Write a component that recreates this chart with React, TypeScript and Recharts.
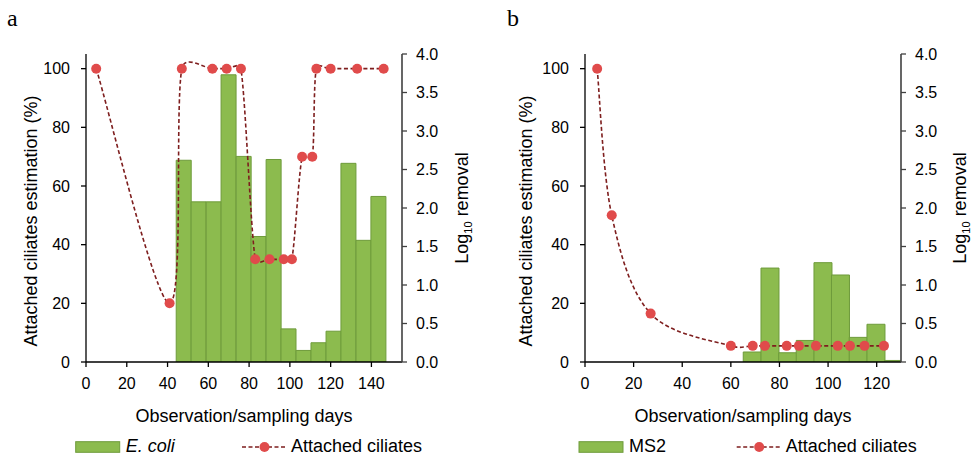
import React from 'react';
import { ComposedChart, Bar, Line, XAxis, YAxis, Legend } from 'recharts';

// ---------- Data: panel a ----------
const ecoliDays = [47.9, 55.2, 62.6, 69.9, 77.3, 84.6, 92.0, 99.3, 106.7, 114.0, 121.4, 128.7, 136.1, 143.4];
const ecoliLog = [2.62, 2.08, 2.08, 3.73, 2.67, 1.63, 2.63, 0.43, 0.15, 0.25, 0.4, 2.58, 1.58, 2.15];
const ciliatesDaysA = [5, 41, 47, 62, 69, 76, 83, 90, 97, 101, 106, 111, 113, 120, 133, 146];
const ciliatesA = [100, 20, 100, 100, 100, 100, 35, 35, 35, 35, 70, 70, 100, 100, 100, 100];
const xTicksA = [0, 20, 40, 60, 80, 100, 120, 140];

// ---------- Data: panel b ----------
const ms2Days = [68.7, 76.0, 83.3, 90.5, 97.8, 105.0, 112.3, 119.6, 126.8];
const ms2Log = [0.13, 1.22, 0.12, 0.28, 1.29, 1.13, 0.32, 0.49, 0.02];
const ciliatesDaysB = [5, 11, 27, 60, 69, 74, 83, 88, 95, 104, 109, 115, 123];
const ciliatesB = [100, 50, 16.5, 5.5, 5.5, 5.5, 5.5, 5.5, 5.5, 5.5, 5.5, 5.5, 5.5];
const xTicksB = [0, 20, 40, 60, 80, 100, 120];

// ---------- Shared axis ticks ----------
const leftTicks = [0, 20, 40, 60, 80, 100];
const rightTicks = [0, 0.5, 1, 1.5, 2, 2.5, 3, 3.5, 4];

const FONT = '"Liberation Sans", Arial, sans-serif';
const BAR_FILL = '#8CBB4E';
const BAR_STROKE = '#6E9B3B';
const LINE_COLOR = '#7E1E1E';
const DOT_COLOR = '#E04B4B';

// Excel-like smoothed line: Catmull-Rom Bezier (1/6 arms), arms clamped to half the segment length
function excelSmooth(context: any) {
  let pts: number[][] = [];
  const dist = (a: number[], b: number[]) => Math.hypot(b[0] - a[0], b[1] - a[1]);
  const arm = (from: number[], to: number[], segLen: number) => {
    let ax = (to[0] - from[0]) / 6;
    let ay = (to[1] - from[1]) / 6;
    const len = Math.hypot(ax, ay);
    const maxLen = segLen / 2;
    if (len > maxLen && len > 0) {
      ax *= maxLen / len;
      ay *= maxLen / len;
    }
    return [ax, ay];
  };
  return {
    areaStart() {},
    areaEnd() {},
    lineStart() {
      pts = [];
    },
    point(x: number, y: number) {
      pts.push([+x, +y]);
    },
    lineEnd() {
      const n = pts.length;
      if (!n) return;
      context.moveTo(pts[0][0], pts[0][1]);
      for (let i = 0; i < n - 1; i++) {
        const p0 = pts[Math.max(i - 1, 0)];
        const p1 = pts[i];
        const p2 = pts[i + 1];
        const p3 = pts[Math.min(i + 2, n - 1)];
        const d12 = dist(p1, p2);
        const a1 = arm(p0, p2, d12);
        const a2 = arm(p1, p3, d12);
        context.bezierCurveTo(p1[0] + a1[0], p1[1] + a1[1], p2[0] - a2[0], p2[1] - a2[1], p2[0], p2[1]);
      }
    },
  };
}

type PanelProps = {
  letter: string;
  left: number;
  width: number;
  barDays: number[];
  barVals: number[];
  lineDays: number[];
  lineVals: number[];
  xMax: number;
  xTicks: number[];
  barName: string;
  italic: boolean;
  yLeftW: number;
  yRightW: number;
  leftTitleX: number;
  rightTitleX: number;
  legendX0: number;
  legendLineX0: number;
  letterX: number;
};

const HEIGHT = 458;
const TOP = 54;
const XAXIS_H = 96;

function Panel(p: PanelProps) {
  const barRows = p.barDays.map((d, i) => ({ day: d, value: p.barVals[i] }));
  const lineRows = p.lineDays.map((d, i) => ({ day: d, pct: p.lineVals[i] }));

  const leftTitle = () => {
    const x = p.leftTitleX;
    const y = 221;
    return (
      <text x={x} y={y} transform={`rotate(-90, ${x}, ${y})`} textAnchor="middle" fontFamily={FONT} fontSize={18} fill="#000">
        Attached ciliates estimation (%)
      </text>
    );
  };
  const rightTitle = () => {
    const x = p.rightTitleX;
    const y = 208;
    return (
      <text x={x} y={y} transform={`rotate(-90, ${x}, ${y})`} textAnchor="middle" fontFamily={FONT} fontSize={18} fill="#000">
        <tspan>Log</tspan>
        <tspan fontSize={11} dy={4}>10</tspan>
        <tspan dy={-4}> removal</tspan>
      </text>
    );
  };
  const xTitle = (props: any) => {
    const vb = props.viewBox;
    return (
      <text x={vb.x + vb.width / 2} y={vb.y + 59.5} textAnchor="middle" fontFamily={FONT} fontSize={18} fill="#000">
        Observation/sampling days
      </text>
    );
  };

  const legendContent = () => (
    <svg width={p.width} height={30} style={{ display: 'block' }}>
      <rect x={p.legendX0} y={13.7} width={44} height={10.6} fill={BAR_FILL} stroke={BAR_STROKE} strokeWidth={1} />
      <text x={p.legendX0 + 50} y={23.7} fontFamily={FONT} fontSize={18} fontStyle={p.italic ? 'italic' : 'normal'} fill="#000">
        {p.barName}
      </text>
      <line x1={p.legendLineX0} x2={p.legendLineX0 + 45} y1={19} y2={19} stroke={LINE_COLOR} strokeWidth={1.6} strokeDasharray="4 2.5" />
      <circle cx={p.legendLineX0 + 22.5} cy={19} r={5} fill={DOT_COLOR} />
      <text x={p.legendLineX0 + 49} y={23.7} fontFamily={FONT} fontSize={18} fill="#000">
        Attached ciliates
      </text>
    </svg>
  );

  const tickStyle = { fontFamily: FONT, fontSize: 16, fill: '#000' };

  return (
    <div style={{ position: 'absolute', left: p.left, top: 0, width: p.width, height: HEIGHT }}>
      <div
        style={{
          position: 'absolute',
          left: p.letterX,
          top: 6,
          fontFamily: '"Liberation Serif", "Times New Roman", serif',
          fontSize: 24,
          lineHeight: '24px',
          color: '#000',
        }}
      >
        {p.letter}
      </div>
      <ComposedChart
        width={p.width}
        height={HEIGHT}
        data={barRows}
        margin={{ top: TOP, right: 0, bottom: 0, left: 0 }}
        barCategoryGap={0}
        barGap={0}
      >
        <XAxis
          xAxisId="bar"
          dataKey="day"
          type="number"
          domain={[0, p.xMax]}
          ticks={p.xTicks}
          interval={0}
          allowDataOverflow
          height={XAXIS_H}
          tickSize={5}
          tickMargin={11}
          tick={tickStyle}
          axisLine={{ stroke: '#000', strokeWidth: 1.3 }}
          tickLine={{ stroke: '#000', strokeWidth: 1.3 }}
          label={{ content: xTitle }}
        />
        <XAxis
          xAxisId="line"
          dataKey="day"
          type="number"
          orientation="top"
          domain={[0, p.xMax]}
          allowDataOverflow
          height={0}
          tick={false}
          tickLine={false}
          axisLine={{ stroke: '#8A8A8A', strokeWidth: 1.5 }}
        />
        <YAxis
          yAxisId="left"
          orientation="left"
          type="number"
          domain={[0, 105]}
          ticks={leftTicks}
          interval={0}
          allowDataOverflow
          width={p.yLeftW}
          tickSize={5}
          tickMargin={11}
          tick={tickStyle}
          axisLine={{ stroke: '#000', strokeWidth: 1.3 }}
          tickLine={{ stroke: '#000', strokeWidth: 1.3 }}
          label={{ content: leftTitle }}
        />
        <YAxis
          yAxisId="right"
          orientation="right"
          type="number"
          domain={[0, 4]}
          ticks={rightTicks}
          interval={0}
          allowDataOverflow
          width={p.yRightW}
          tickSize={5}
          tickMargin={9}
          tick={tickStyle}
          tickFormatter={(v: number) => v.toFixed(1)}
          axisLine={{ stroke: '#404040', strokeWidth: 1.6 }}
          tickLine={{ stroke: '#404040', strokeWidth: 1.3 }}
          label={{ content: rightTitle }}
        />
        <Bar
          xAxisId="bar"
          yAxisId="right"
          dataKey="value"
          name={p.barName}
          fill={BAR_FILL}
          stroke={BAR_STROKE}
          strokeWidth={1}
          isAnimationActive={false}
        />
        <Line
          xAxisId="line"
          yAxisId="left"
          data={lineRows}
          dataKey="pct"
          name="Attached ciliates"
          type={excelSmooth as any}
          stroke={LINE_COLOR}
          strokeWidth={1.6}
          strokeDasharray="4 2.5"
          dot={{ r: 5, fill: DOT_COLOR, stroke: 'none', strokeDasharray: '' }}
          activeDot={false}
          isAnimationActive={false}
        />
        <Legend
          layout="horizontal"
          verticalAlign="middle"
          align="center"
          content={legendContent}
          wrapperStyle={{ left: 0, top: 428, width: p.width, height: 30 }}
        />
      </ComposedChart>
    </div>
  );
}

export default function App() {
  return (
    <div style={{ position: 'absolute', left: 0, top: 0, width: 979, height: 458, background: '#fff' }}>
      <Panel
        letter="a"
        left={0}
        width={490}
        barDays={ecoliDays}
        barVals={ecoliLog}
        lineDays={ciliatesDaysA}
        lineVals={ciliatesA}
        xMax={155}
        xTicks={xTicksA}
        barName="E. coli"
        italic={true}
        yLeftW={86}
        yRightW={88}
        leftTitleX={37}
        rightTitleX={468}
        legendX0={75.7}
        legendLineX0={242}
        letterX={7}
      />
      <Panel
        letter="b"
        left={490}
        width={489}
        barDays={ms2Days}
        barVals={ms2Log}
        lineDays={ciliatesDaysB}
        lineVals={ciliatesB}
        xMax={130}
        xTicks={xTicksB}
        barName="MS2"
        italic={false}
        yLeftW={95}
        yRightW={78}
        leftTitleX={42}
        rightTitleX={476}
        legendX0={89}
        legendLineX0={246.7}
        letterX={17}
      />
    </div>
  );
}
